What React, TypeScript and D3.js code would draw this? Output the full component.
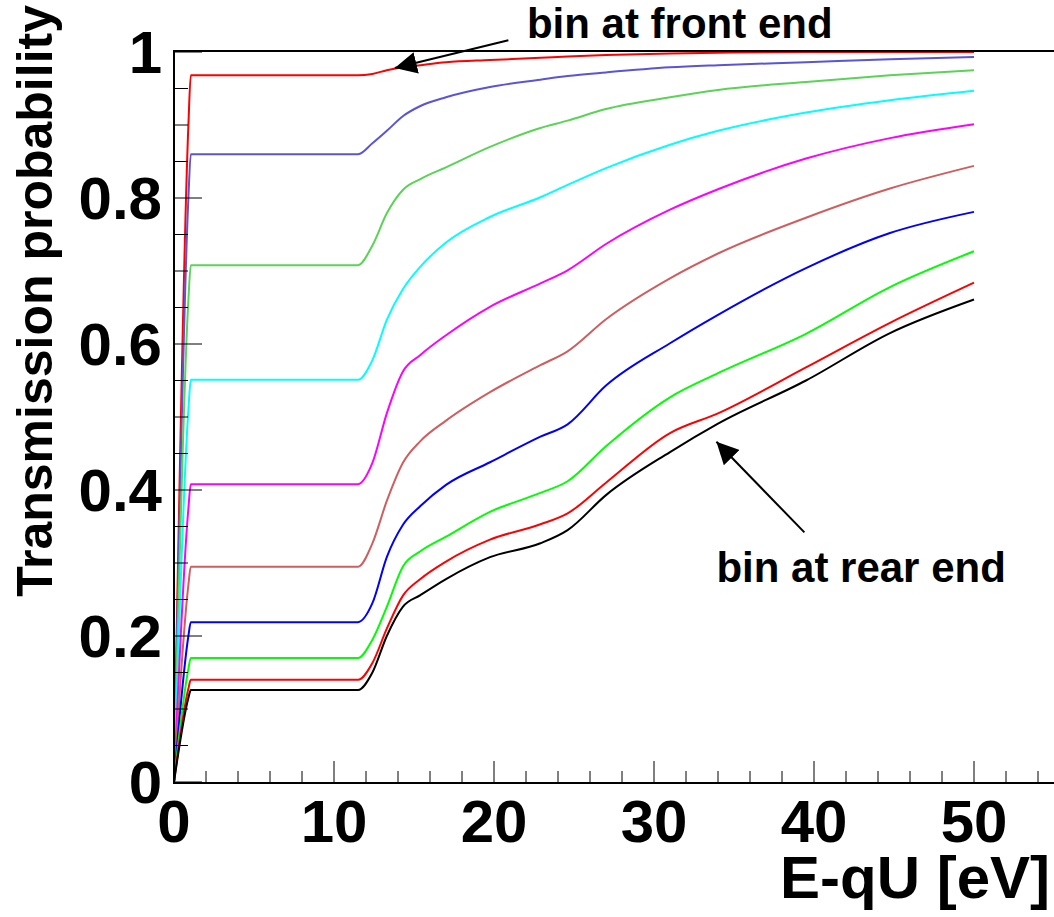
import React from 'react'
import * as d3 from 'd3'

// energy grid the curves were read at (eV above the retarding potential)
const energies = [0, 0.9, 1.05, 11.5, 12.4, 13.3, 14.3, 15.4, 17, 19.75, 22.9, 24.6, 27, 31, 34, 39.5, 44.75, 50]

// one transmission curve per bin, front end first
const binFront = [0, 0.9, 0.968, 0.968, 0.97, 0.975, 0.979, 0.982, 0.986, 0.989, 0.992, 0.994, 0.996, 0.998, 0.999, 1.0, 1.0, 1.0]
const bin2 = [0, 0.8, 0.86, 0.86, 0.875, 0.892, 0.912, 0.926, 0.938, 0.952, 0.962, 0.967, 0.972, 0.979, 0.982, 0.986, 0.99, 0.993]
const bin3 = [0, 0.66, 0.708, 0.708, 0.735, 0.779, 0.811, 0.826, 0.842, 0.87, 0.896, 0.906, 0.922, 0.938, 0.948, 0.959, 0.968, 0.975]
const bin4 = [0, 0.51, 0.551, 0.551, 0.578, 0.633, 0.675, 0.706, 0.739, 0.774, 0.801, 0.818, 0.841, 0.873, 0.892, 0.917, 0.934, 0.947]
const bin5 = [0, 0.375, 0.408, 0.408, 0.437, 0.505, 0.562, 0.585, 0.612, 0.651, 0.683, 0.701, 0.737, 0.784, 0.812, 0.854, 0.882, 0.901]
const bin6 = [0, 0.27, 0.295, 0.295, 0.327, 0.385, 0.437, 0.467, 0.495, 0.534, 0.571, 0.59, 0.634, 0.69, 0.724, 0.773, 0.813, 0.844]
const bin7 = [0, 0.2, 0.219, 0.219, 0.245, 0.308, 0.352, 0.378, 0.407, 0.438, 0.473, 0.49, 0.543, 0.601, 0.64, 0.704, 0.752, 0.781]
const bin8 = [0, 0.155, 0.17, 0.17, 0.195, 0.24, 0.295, 0.316, 0.336, 0.37, 0.396, 0.412, 0.46, 0.527, 0.56, 0.614, 0.678, 0.727]
const bin9 = [0, 0.128, 0.14, 0.14, 0.163, 0.21, 0.255, 0.278, 0.302, 0.332, 0.353, 0.368, 0.41, 0.478, 0.505, 0.568, 0.629, 0.684]
const binRear = [0, 0.115, 0.126, 0.126, 0.15, 0.2, 0.24, 0.256, 0.278, 0.308, 0.327, 0.345, 0.393, 0.452, 0.491, 0.55, 0.615, 0.661]

const curves = [binFront, bin2, bin3, bin4, bin5, bin6, bin7, bin8, bin9, binRear]
const colors = ['#ff0000', '#5954d9', '#59d454', '#00ffff', '#ff00ff', '#cf5e61', '#0000ff', '#00ff00', '#ff0000', '#000000']

const xTicks = [0, 10, 20, 30, 40, 50]
const yTicks = [0, 0.2, 0.4, 0.6, 0.8, 1]
const yTickLabels = ['0', '0.2', '0.4', '0.6', '0.8', '1']

const font = '"Liberation Sans", Arial, sans-serif'

export default function App() {
  const W = 1054
  const H = 917
  const left = 174
  const right = 1054
  const top = 52
  const bottom = 782

  const x = d3.scaleLinear().domain([0, 55]).range([left, right])
  const y = d3.scaleLinear().domain([0, 1]).range([bottom, top])

  const line = d3.line<number>()
    .x((d, i) => x(energies[i]))
    .y(d => y(d))
    .curve(d3.curveMonotoneX)

  const xMinor = d3.range(0, 56, 2).filter(v => v % 10 !== 0)
  const yMinor = d3.range(0, 1.001, 0.05).filter(v => Math.abs(v * 5 - Math.round(v * 5)) > 1e-6)

  // annotation arrows (data coords)
  const arrows = [
    { from: [20.9, 1.016], to: [13.8, 0.978] },
    { from: [39.4, 0.342], to: [33.9, 0.466] },
  ]

  return (
    <svg width={W} height={H} style={{ position: 'absolute', left: 0, top: 0, background: '#fff' }}>
      <defs>
        <clipPath id="plot">
          <rect x={left} y={top - 3} width={right - left} height={bottom - top + 4} />
        </clipPath>
        <marker id="head" viewBox="0 0 10 10" refX="10" refY="5" markerWidth="22" markerHeight="22"
          markerUnits="userSpaceOnUse" orient="auto">
          <path d="M0,0 L10,5 L0,10 z" fill="#000" />
        </marker>
      </defs>

      {/* curves */}
      <g clipPath="url(#plot)">
        {curves.map((c, i) => (
          <path key={i} d={line(c) ?? ''} fill="none" stroke={colors[i]} strokeWidth={2} />
        ))}
      </g>

      {/* frame */}
      <line x1={left} x2={right} y1={top - 1} y2={top - 1} stroke="#000" strokeWidth={2} />
      <line x1={left} x2={left} y1={top - 2} y2={bottom + 2} stroke="#000" strokeWidth={2} />
      <line x1={left} x2={right} y1={bottom + 1} y2={bottom + 1} stroke="#000" strokeWidth={2} />

      {/* x ticks */}
      {xTicks.map(t => (
        <line key={'xm' + t} x1={x(t)} x2={x(t)} y1={bottom} y2={bottom - 21} stroke="#000" strokeWidth={1} />
      ))}
      {xMinor.map(t => (
        <line key={'xn' + t} x1={x(t)} x2={x(t)} y1={bottom} y2={bottom - 11} stroke="#000" strokeWidth={1} />
      ))}
      {/* y ticks */}
      {yTicks.map(t => (
        <line key={'ym' + t} x1={left} x2={left + 28} y1={y(t)} y2={y(t)} stroke="#000" strokeWidth={1} />
      ))}
      {yMinor.map(t => (
        <line key={'yn' + t} x1={left} x2={left + 14} y1={y(t)} y2={y(t)} stroke="#000" strokeWidth={1} />
      ))}

      {/* tick labels */}
      <g fontFamily={font} fontWeight="bold" fontSize={60} fill="#000">
        {xTicks.map(t => (
          <text key={'xl' + t} x={x(t)} y={842} textAnchor="middle">{t}</text>
        ))}
        {yTicks.map((t, i) => (
          <text key={'yl' + t} x={162} y={y(t) + 21} textAnchor="end">{yTickLabels[i]}</text>
        ))}
      </g>

      {/* axis titles */}
      <text x={1050} y={898} textAnchor="end" fontFamily={font} fontWeight="bold" fontSize={60}>E-qU [eV]</text>
      <text transform="translate(52,5) rotate(-90)" textAnchor="end" fontFamily={font} fontWeight="bold" fontSize={50}>
        Transmission probability
      </text>

      {/* annotations */}
      {arrows.map((a, i) => (
        <line key={'ar' + i} x1={x(a.from[0])} y1={y(a.from[1])} x2={x(a.to[0])} y2={y(a.to[1])}
          stroke="#000" strokeWidth={2} markerEnd="url(#head)" />
      ))}
      <text x={x(22.06)} y={38} fontFamily={font} fontWeight="bold" fontSize={42}>bin at front end</text>
      <text x={x(33.9)} y={582} fontFamily={font} fontWeight="bold" fontSize={42}>bin at rear end</text>
    </svg>
  )
}
